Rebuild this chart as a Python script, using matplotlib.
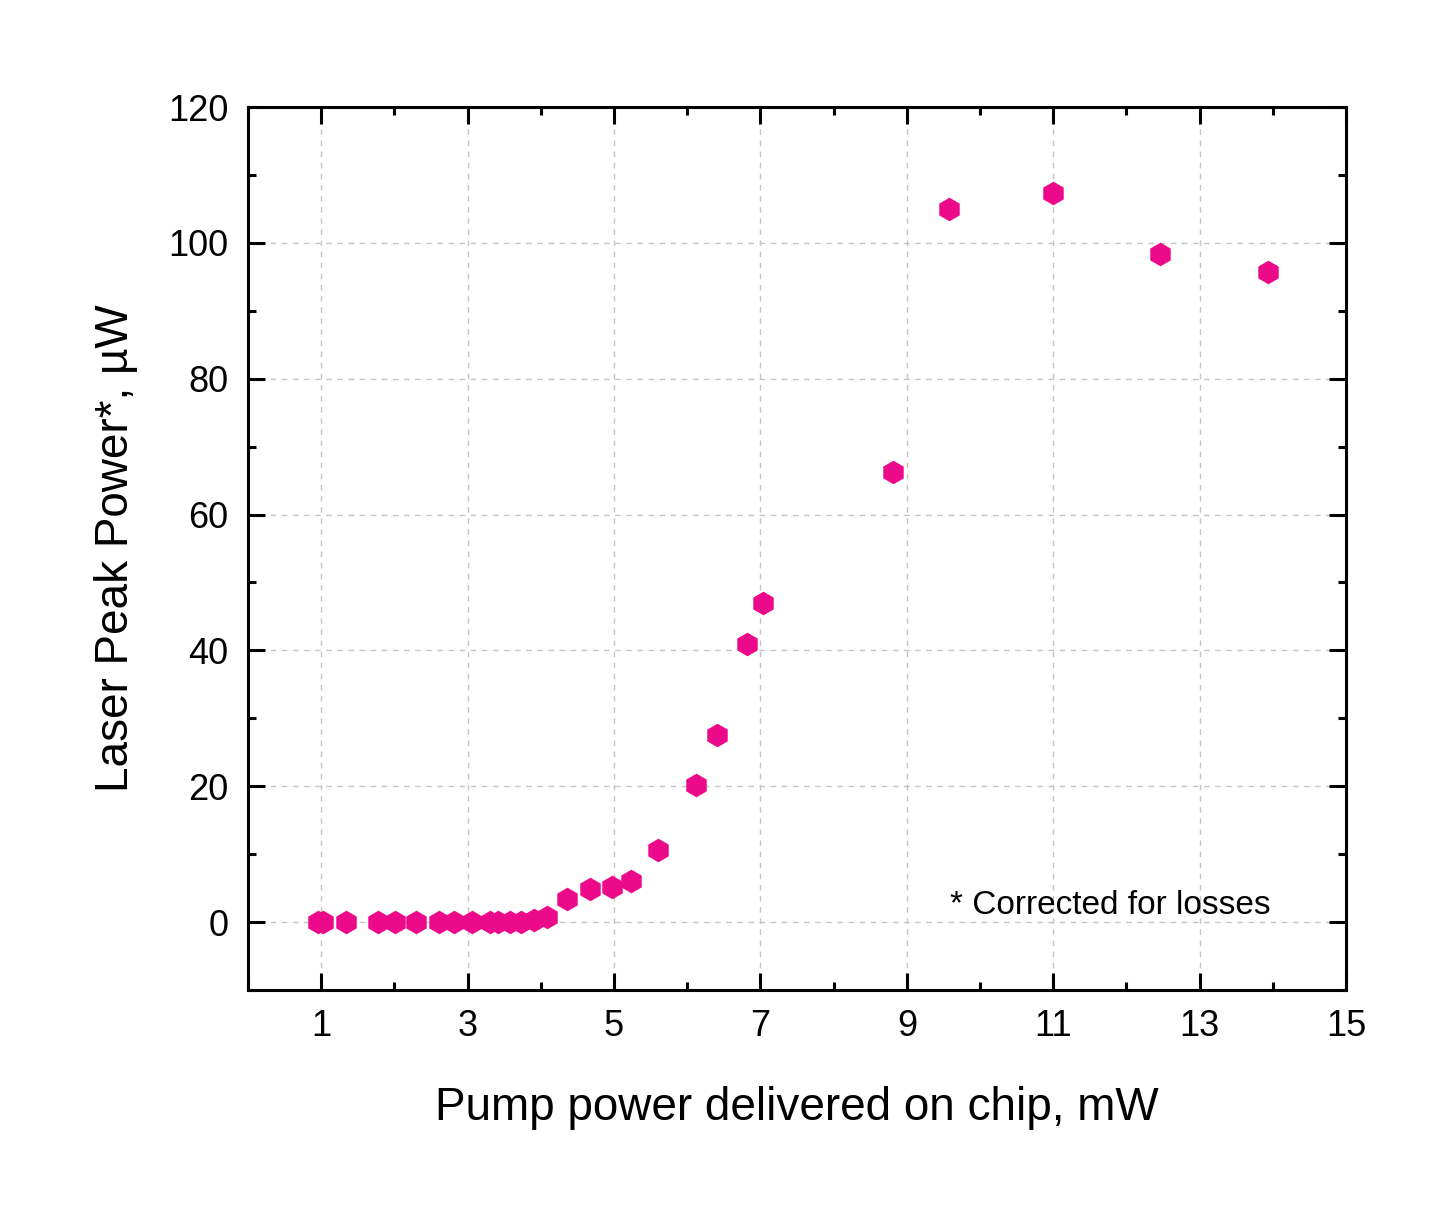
import matplotlib.pyplot as plt
from matplotlib.ticker import MultipleLocator

plt.rcParams['font.family'] = ['Liberation Sans', 'DejaVu Sans']

# pump power on chip (mW) and laser peak power (uW)
pump = [0.95, 1.03, 1.34, 1.78, 2.01, 2.30, 2.61, 2.81, 3.06, 3.31, 3.42, 3.58,
        3.73, 3.90, 4.08, 4.36, 4.67, 4.97, 5.23, 5.60, 6.12, 6.41, 6.82, 7.04,
        8.81, 9.58, 11.0, 12.46, 13.93]
peak = [0.0, 0.0, 0.0, 0.0, 0.0, 0.0, 0.0, 0.0, 0.0, 0.0, 0.0, 0.0,
        0.0, 0.3, 0.8, 3.4, 4.9, 5.2, 6.0, 10.6, 20.2, 27.5, 41.0, 47.0,
        66.2, 105.0, 107.3, 98.4, 95.7]

fig = plt.figure(figsize=(14.53, 12.15), dpi=100)
ax = fig.add_axes([0.1707, 0.1852, 0.7557, 0.7267])

ax.plot(pump, peak, linestyle='none', marker='h', markersize=17,
        color='#EC0A8A', markeredgewidth=0, zorder=3)

ax.set_xlim(0, 15)
ax.set_ylim(-10, 120)
ax.set_xticks([1, 3, 5, 7, 9, 11, 13, 15])
ax.xaxis.set_minor_locator(MultipleLocator(1))
ax.yaxis.set_major_locator(MultipleLocator(20))
ax.yaxis.set_minor_locator(MultipleLocator(10))

ax.grid(True, which='major', linestyle=(0, (4, 4)), color='#C4C4C4', linewidth=1)
ax.set_axisbelow(True)

ax.tick_params(which='both', direction='in', top=True, right=True, width=2.2)
ax.tick_params(which='major', length=12, labelsize=26)
ax.tick_params(which='minor', length=6)
ax.tick_params(axis='x', pad=14)
ax.tick_params(axis='y', pad=14)
for s in ax.spines.values():
    s.set_linewidth(2.2)

ax.set_xlabel('Pump power delivered on chip, mW', fontsize=33, labelpad=30)
ax.set_ylabel('Laser Peak Power*, µW', fontsize=33, labelpad=22)

ax.text(9.59, 2.5, '* Corrected for losses', fontsize=24, va='center', ha='left')

plt.savefig('out.png', dpi=100)
